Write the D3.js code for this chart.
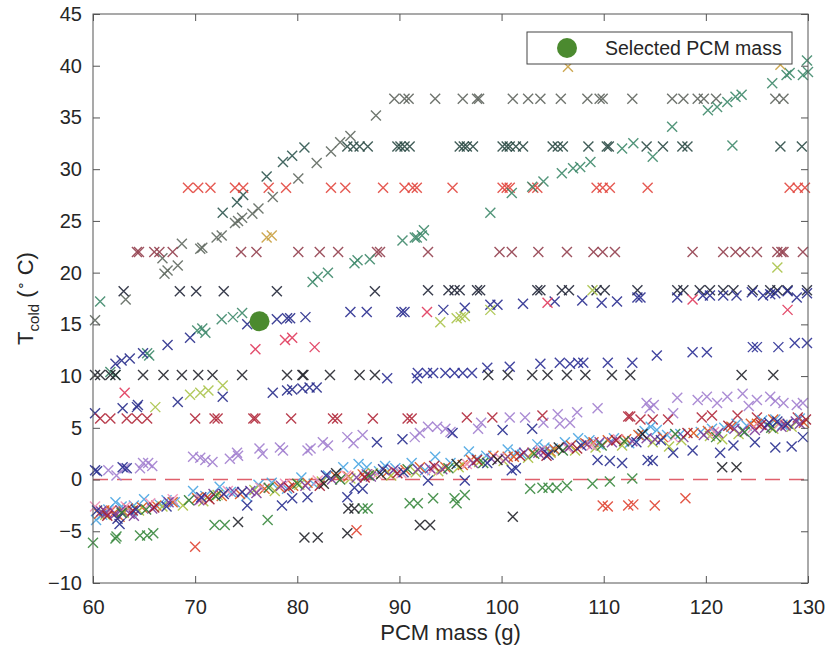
<!DOCTYPE html>
<html>
<head>
<meta charset="utf-8">
<script src="https://cdn.jsdelivr.net/npm/d3@7"></script>
<style>
  body { margin: 0; background: #fff; }
  svg text { font-family: "Liberation Sans", Arial, Helvetica, sans-serif; fill: #262626; }
</style>
</head>
<body>
<div id="chart"></div>
<script>
var w = 829;
var h = 656;
var margin = { left: 93, right: 21, top: 14, bottom: 73 };

var xTicks = [60, 70, 80, 90, 100, 110, 120, 130];
var yTicks = [-10, -5, 0, 5, 10, 15, 20, 25, 30, 35, 40, 45];
var selected = [[76.3, 15.3]];
var legendLabel = "Selected PCM mass";

// rows at constant temperature
var row368 = [[89.5,36.8],[90.5,36.8],[90.9,36.8],[93.5,36.8],[96.2,36.8],[97.6,36.8],[97.8,36.8],[101.1,36.8],[102.6,36.8],[103.8,36.8],[105.8,36.8],[108.4,36.8],[109.6,36.8],[109.9,36.8],[112.8,36.8],[116.7,36.8],[117.8,36.8],[119.2,36.8],[119.8,36.8],[121.0,36.8],[126.8,36.8],[127.6,36.8]];
var row322 = [[84.9,32.2],[85.5,32.2],[86.1,32.2],[86.9,32.2],[89.8,32.2],[90.1,32.2],[90.5,32.2],[91.0,32.2],[95.9,32.2],[96.3,32.2],[96.6,32.2],[97.2,32.2],[100.1,32.2],[100.5,32.2],[100.8,32.2],[101.4,32.2],[102.1,32.2],[105.0,32.2],[105.5,32.2],[106.0,32.2],[108.5,32.2],[110.3,32.2],[110.5,32.2],[114.2,32.2],[115.8,32.2],[117.7,32.2],[118.2,32.2],[127.3,32.2],[129.4,32.2]];
var row282 = [[69.3,28.2],[70.3,28.2],[71.5,28.2],[73.9,28.2],[74.7,28.2],[77.2,28.2],[78.9,28.2],[83.3,28.2],[84.7,28.2],[88.4,28.2],[90.5,28.2],[91.3,28.2],[91.7,28.2],[95.2,28.2],[100.1,28.2],[100.5,28.2],[100.8,28.2],[103.1,28.2],[103.5,28.2],[109.3,28.2],[109.9,28.2],[110.6,28.2],[114.3,28.2],[128.2,28.2],[129.0,28.2],[129.7,28.2]];
var row221 = [[64.3,22.0],[64.5,22.0],[66.0,22.0],[66.5,22.0],[67.8,22.0],[74.5,22.0],[76.0,22.0],[80.1,22.0],[82.2,22.0],[84.0,22.0],[87.8,22.0],[88.1,22.0],[92.8,22.0],[99.8,22.0],[101.0,22.0],[103.6,22.0],[106.4,22.0],[109.0,22.0],[109.9,22.0],[111.1,22.0],[118.7,22.0],[121.7,22.0],[122.9,22.0],[123.8,22.0],[125.0,22.0],[127.0,22.0],[127.4,22.0],[127.6,22.0],[129.5,22.0]];
var row183 = [[63.0,18.2],[68.5,18.2],[70.1,18.2],[72.8,18.2],[78.0,18.2],[87.6,18.2],[92.8,18.3],[94.8,18.3],[95.4,18.3],[95.9,18.3],[97.6,18.3],[97.9,18.3],[103.5,18.3],[103.8,18.3],[105.9,18.3],[106.6,18.3],[109.3,18.3],[110.1,18.3],[113.3,18.3],[117.2,18.3],[117.8,18.3],[119.4,18.3],[120.4,18.3],[121.7,18.3],[122.7,18.3],[124.6,18.3],[126.3,18.3],[127.0,18.3],[128.0,18.3],[129.9,18.3]];
var row101 = [[60.2,10.1],[60.7,10.1],[61.7,10.1],[62.2,10.1],[64.9,10.1],[66.9,10.1],[68.7,10.1],[70.3,10.1],[71.7,10.1],[74.6,10.1],[79.0,10.1],[80.5,10.1],[80.6,10.1],[83.2,10.1],[86.1,10.1],[87.6,10.1],[98.7,10.1],[100.6,10.1],[103.0,10.1],[104.5,10.1],[106.4,10.1],[108.2,10.1],[110.8,10.1],[112.6,10.1],[123.5,10.1],[126.6,10.1]];
var row59 = [[60.7,5.9],[61.7,5.9],[63.3,5.9],[64.3,5.9],[65.3,5.9],[70.0,5.9],[71.9,5.9],[72.2,5.9],[75.7,5.9],[75.9,5.9],[79.4,5.9],[83.5,5.9],[83.9,5.9],[87.4,5.9],[90.8,5.9],[91.2,5.9],[96.6,6.0],[99.1,6.0],[104.0,6.2],[112.4,6.1],[112.6,6.1],[113.6,5.8],[114.8,5.8],[116.3,5.8],[119.6,6.0],[120.6,6.2],[123.1,6.2],[125.0,6.0],[129.0,6.0]];

// rising branches
var grayDiag = [[60.2,15.4],[63.2,17.4],[66.8,21.4],[67.0,19.9],[67.3,20.2],[68.3,20.7],[68.7,22.8],[70.5,22.3],[70.7,22.4],[72.1,23.4],[72.6,23.6],[73.9,24.8],[74.2,25.0],[74.6,25.3],[75.6,25.7],[76.2,26.2],[77.6,27.3],[80.1,29.1],[81.9,30.6],[83.3,31.7],[84.2,32.6],[85.2,33.2],[87.7,35.2]];
var darkTealDiag = [[72.7,25.8],[74.1,26.8],[74.7,27.5],[77.0,29.3],[78.6,30.7],[79.5,31.3],[80.7,32.1]];
var tealDiag = [[60.7,17.2],[61.7,10.4],[62.2,10.1],[65.3,12.2],[65.5,12.0],[70.2,14.4],[70.7,14.6],[71.0,14.2],[72.6,15.5],[73.7,15.7],[74.6,16.1],[81.5,19.1],[82.0,19.6],[83.0,20.0],[85.6,20.9],[85.9,21.2],[87.1,21.3],[90.3,23.1],[91.5,23.4],[91.7,23.4],[92.2,23.6],[92.4,24.1],[98.9,25.8],[101.0,27.7],[103.0,28.3],[104.1,28.8],[105.9,29.6],[107.0,30.1],[107.7,30.2],[108.7,30.7],[111.8,32.0],[112.9,32.5],[114.8,31.2],[116.7,34.1],[120.2,35.7],[121.1,36.0],[122.1,36.5],[122.9,37.0],[123.5,37.2],[122.6,32.3],[126.5,38.3],[127.9,39.1],[128.2,39.3],[129.5,39.1],[130.0,39.4],[129.9,40.5]];
var navyDiag = [[60.2,6.4],[62.2,11.2],[62.8,11.5],[63.6,11.7],[64.9,12.2],[67.3,13.0],[69.5,13.7],[62.9,6.9],[64.3,7.0],[64.4,7.2],[68.3,7.5],[72.7,8.0],[77.6,8.4],[79.0,8.6],[79.5,8.7],[80.5,8.8],[81.2,8.9],[81.9,8.9],[75.1,15.0],[78.0,15.5],[79.0,15.6],[79.3,15.6],[80.8,15.7]];
var navyMid = [[85.2,16.2],[86.8,16.2],[90.2,16.2],[90.5,16.2],[94.3,16.4],[96.4,16.6],[98.9,16.9],[99.6,16.9],[102.1,17.0],[105.2,17.2],[107.9,17.3],[109.8,17.1],[111.3,17.2],[113.3,17.6],[113.6,17.6],[117.2,17.6],[119.7,17.8],[120.4,17.8],[121.7,17.8],[123.0,17.8],[124.5,18.1],[125.6,17.8],[126.3,17.9],[126.8,18.0],[128.0,18.2],[128.9,17.6],[129.9,18.0]];
var navyRow = [[88.8,9.8],[91.7,9.8],[91.8,10.3],[92.7,10.3],[93.3,10.3],[94.5,10.3],[95.4,10.3],[96.2,10.3],[97.1,10.3],[98.6,10.8],[100.8,10.9],[103.8,11.2],[105.7,11.3],[106.7,11.2],[107.5,11.3],[108.0,11.3],[110.4,11.3],[112.8,11.3],[115.2,12.0],[118.7,12.3],[120.1,12.3],[124.6,12.8],[125.0,12.8],[127.1,12.8],[128.7,13.2],[129.9,13.2]];

// scattered groups
var pinkRed = [[63.1,8.4],[75.9,12.6],[78.8,13.5],[79.5,13.7],[81.7,12.8],[92.7,16.2],[104.5,17.1],[118.7,17.4],[128.0,16.4]];
var olive = [[66.1,7.0],[69.5,8.2],[70.5,8.4],[71.3,8.6],[72.7,9.1],[94.0,15.2],[95.6,15.6],[96.0,15.7],[96.4,15.8],[98.9,16.4],[108.9,18.3],[127.0,20.5]];
var ochre = [[77.0,23.4],[77.5,23.6],[106.5,39.9],[127.3,40.1]];
var greenLow = [[60.0,-6.1],[62.2,-5.7],[62.3,-5.5],[64.6,-5.4],[65.3,-5.4],[65.9,-5.2],[71.9,-4.4],[72.9,-4.4],[77.1,-3.9],[86.4,-2.8],[86.9,-2.8],[91.0,-2.3],[91.8,-2.3],[93.3,-1.8],[95.4,-1.8],[95.6,-2.3],[96.4,-1.5],[102.8,-0.9],[104.0,-0.8],[104.6,-0.8],[105.4,-0.8],[106.4,-0.6],[108.9,-0.4],[110.6,-0.2],[112.8,0.1]];
var darkLow = [[74.2,-4.1],[80.7,-5.6],[82.0,-5.6],[84.9,-5.2],[85.0,-2.8],[85.6,-2.8],[92.0,-4.4],[93.0,-4.4],[101.1,-3.6],[121.6,1.2],[123.0,1.2]];
var redLow = [[70.0,-6.5],[85.8,-4.9],[109.9,-2.5],[110.4,-2.6],[112.4,-2.5],[112.9,-2.4],[115.0,-2.5],[118.0,-1.8]];
var lavender = [[61.5,0.9],[62.3,0.4],[63.1,1.1],[64.6,1.1],[64.9,1.6],[65.4,1.6],[65.8,1.3],[69.8,2.2],[70.5,2.1],[71.0,1.9],[71.7,1.7],[73.4,2.0],[74.2,2.3],[74.1,2.6],[76.3,3.0],[76.6,2.5],[78.3,3.1],[78.6,2.8],[81.0,2.8],[81.3,3.0],[82.5,3.6],[83.0,3.3],[84.9,4.1],[85.5,3.5],[86.4,4.3],[91.5,4.1],[92.0,4.5],[92.8,5.1],[93.7,5.1],[94.5,4.9],[95.0,4.6],[97.7,4.9],[98.0,5.5],[100.8,6.0],[102.3,6.0],[104.1,5.5],[105.5,6.3],[105.7,5.4],[106.7,5.5],[107.4,6.5],[109.4,6.9],[114.2,7.4],[114.5,6.9],[114.9,7.2],[116.8,6.4],[117.2,7.9],[119.2,7.7],[120.1,8.0],[121.1,7.4],[122.1,8.0],[123.6,8.3],[124.2,7.1],[125.0,7.7],[126.3,8.0],[126.8,7.6],[127.6,7.4],[128.9,7.2],[129.5,7.4]];

// the dense band around 0 degC
var bandBlue = [[60.3,-3.9],[60.9,-3.4],[61.5,-2.9],[62.2,-2.2],[62.8,-2.6],[63.8,-3.1],[64.0,-2.5],[65.0,-1.9],[66.5,-2.4],[67.2,-2.0],[68.0,-2.2],[69.8,-1.1],[71.0,-1.6],[72.4,-0.7],[73.5,-1.2],[75.0,-1.6],[76.2,-0.5],[77.5,-0.3],[79.0,-0.9],[80.4,0.2],[81.6,-0.4],[83.0,0.4],[84.5,1.2],[86.0,1.5],[86.8,1.2],[88.0,0.8],[88.6,1.3],[89.6,1.1],[91.2,1.6],[92.5,0.9],[93.5,2.2],[95.0,1.6],[96.8,2.7],[97.6,2.0],[98.5,2.3],[100.6,2.9],[101.4,2.6],[102.0,2.4],[103.5,3.4],[104.2,3.1],[105.0,3.0],[106.2,3.6],[107.5,4.0],[108.6,3.8],[109.5,3.4],[111.0,4.0],[112.5,3.5],[113.6,4.2],[114.0,4.7],[114.6,5.1],[115.2,4.8],[116.2,4.3],[117.5,4.4],[119.5,4.6],[120.6,4.9],[121.8,5.0],[123.0,5.4],[124.0,5.2],[125.5,5.7],[126.8,5.8],[127.5,5.3],[129.2,5.9]];
var bandOrange = [[60.6,-3.3],[61.1,-3.0],[61.8,-3.0],[62.0,-3.3],[62.6,-3.6],[63.0,-3.1],[63.4,-2.8],[64.8,-2.7],[66.2,-2.5],[67.8,-2.2],[70.2,-1.8],[71.2,-1.7],[72.6,-1.6],[74.4,-1.4],[76.8,-0.9],[78.2,-0.7],[79.6,-0.6],[81.0,-0.3],[83.8,0.3],[85.0,0.3],[86.4,0.5],[88.8,0.7],[90.6,0.9],[92.0,1.2],[94.5,1.2],[96.2,1.4],[97.0,1.9],[99.2,2.3],[100.6,2.2],[101.2,2.2],[103.0,2.6],[104.8,2.7],[105.2,2.9],[106.8,3.3],[108.2,3.5],[109.0,3.6],[110.4,3.8],[112.2,3.9],[113.4,4.3],[115.8,4.1],[118.8,4.5],[120.2,4.7],[122.5,5.1],[124.4,5.4],[125.0,5.4],[126.6,5.8],[127.8,5.3],[129.6,5.5]];
var bandYellow = [[61.2,-3.4],[63.0,-3.2],[64.5,-3.0],[66.8,-2.6],[68.8,-2.5],[70.8,-2.1],[72.2,-1.5],[75.8,-1.0],[77.8,-1.1],[80.2,-0.5],[82.4,-0.2],[85.2,0.1],[87.4,0.6],[89.2,0.4],[91.6,0.7],[93.8,0.8],[95.8,1.2],[97.8,1.7],[100.2,1.8],[102.6,2.1],[104.8,2.6],[107.2,2.8],[109.2,3.1],[111.8,3.3],[114.8,3.6],[116.4,3.2],[117.6,3.8],[120.4,4.2],[121.6,3.9],[123.2,4.4],[126.6,4.9],[128.4,5.1]];
var bandPink = [[60.2,-2.6],[61.6,-3.1],[63.2,-2.6],[65.6,-2.3],[67.8,-1.9],[70.6,-1.9],[73.2,-1.1],[76.4,-0.8],[78.8,-0.4],[82.0,-0.1],[84.8,0.4],[87.8,0.5],[90.2,0.6],[93.2,0.9],[96.6,1.5],[99.8,2.1],[103.8,2.8],[106.4,3.1],[108.8,3.3],[111.4,3.9],[116.8,4.1],[120.8,4.6],[124.6,5.0],[127.2,5.4]];
var bandPurple = [[60.8,-3.1],[61.3,-3.2],[62.2,-3.3],[62.7,-3.0],[63.6,-3.3],[64.0,-3.5],[65.8,-2.8],[67.4,-2.2],[70.4,-2.0],[71.8,-1.4],[73.8,-1.2],[75.4,-1.1],[76.0,-1.3],[78.4,-0.6],[80.8,-0.6],[83.4,0.0],[85.8,0.2],[86.8,0.5],[87.2,0.3],[89.4,0.9],[91.8,1.0],[93.0,1.1],[94.2,1.0],[97.2,1.6],[99.0,2.0],[100.4,2.0],[102.2,2.6],[103.6,2.6],[104.2,2.7],[106.6,3.1],[108.4,3.4],[109.6,3.6],[110.8,3.6],[112.8,3.7],[114.2,4.0],[115.0,3.9],[117.8,4.1],[119.8,4.3],[121.2,4.5],[122.8,4.9],[123.6,4.7],[124.8,4.8],[125.8,5.0],[126.0,5.3],[127.4,5.1],[127.8,5.2],[128.8,5.6],[129.2,5.4]];
var bandNavy = [[60.2,0.9],[60.4,0.8],[62.9,1.2],[63.3,1.1],[87.8,3.6],[90.3,3.9],[95.2,4.5],[100.1,4.8],[103.0,4.9],[60.4,-3.0],[62.4,-3.8],[62.6,-4.3],[64.2,-2.9],[67.2,-2.6],[70.6,-1.7],[72.8,-1.4],[74.6,-1.2],[75.1,-2.5],[78.5,-2.5],[79.5,-1.8],[81.0,-1.7],[82.8,0.4],[84.9,-1.7],[85.6,-0.8],[86.4,-0.9],[88.4,1.0],[90.4,0.7],[92.8,-0.1],[96.4,-0.1],[98.6,1.6],[101.0,0.9],[101.4,1.1],[104.6,2.4],[107.8,3.3],[109.4,1.9],[110.6,1.8],[111.8,1.6],[113.2,3.6],[114.3,1.9],[114.8,1.8],[115.6,3.8],[116.8,2.6],[118.7,2.8],[121.4,2.6],[122.7,3.3],[124.8,3.6],[126.2,5.5],[126.8,3.1],[127.0,5.6],[128.0,5.4],[128.4,3.2],[129.5,4.1]];
var bandGreen = [[62.8,-3.2],[65.2,-2.9],[69.4,-2.0],[72.0,-1.6],[77.2,-0.8],[80.0,-0.4],[84.2,0.0],[87.0,0.4],[90.8,1.0],[94.8,1.1],[98.2,1.6],[103.2,2.5],[106.0,2.8],[109.8,3.3],[112.0,3.7],[117.0,4.4],[121.0,4.1],[123.8,4.6],[126.4,5.0]];
var bandRed = [[61.4,-3.5],[63.9,-3.0],[66.0,-2.7],[71.4,-1.9],[79.2,-0.8],[82.2,-0.6],[86.6,0.2],[89.8,0.6],[93.4,1.3],[97.6,1.9],[101.8,2.3],[104.4,2.3],[107.4,3.0],[111.2,3.8],[118.2,4.5],[122.2,5.2],[125.4,5.3],[129.8,5.8]];
var bandBlack = [[82.6,-0.4],[83.8,0.6],[88.2,0.5],[95.6,1.5],[99.6,1.9],[105.6,3.1],[113.8,4.4]];

// draw order and colours for each group
var groups = [
  { pts: lavender, color: "#a27fcf" },
  { pts: row368, color: "#5f655e" },
  { pts: grayDiag, color: "#626a62" },
  { pts: darkTealDiag, color: "#2f5750" },
  { pts: row322, color: "#2e4d47" },
  { pts: row282, color: "#e2473f" },
  { pts: row221, color: "#94404f" },
  { pts: row183, color: "#23283a" },
  { pts: tealDiag, color: "#3f8a6c" },
  { pts: navyDiag, color: "#2a2f8c" },
  { pts: navyMid, color: "#2b2f90" },
  { pts: navyRow, color: "#2d3196" },
  { pts: row101, color: "#26272f" },
  { pts: row59, color: "#b12a3c" },
  { pts: pinkRed, color: "#e03a5c" },
  { pts: olive, color: "#aac34a" },
  { pts: ochre, color: "#c9a040" },
  { pts: greenLow, color: "#3b8a40" },
  { pts: darkLow, color: "#23252b" },
  { pts: redLow, color: "#e04432" },
  { pts: bandBlue, color: "#4ba6e2" },
  { pts: bandOrange, color: "#d9541c" },
  { pts: bandYellow, color: "#a8c040" },
  { pts: bandPink, color: "#f08fb6" },
  { pts: bandPurple, color: "#7b3d9a" },
  { pts: bandGreen, color: "#2f7c33" },
  { pts: bandRed, color: "#a3192d" },
  { pts: bandNavy, color: "#2a3090" },
  { pts: bandBlack, color: "#222" }
];

var iw = w - margin.left - margin.right;
var ih = h - margin.top - margin.bottom;

var svg = d3.select("#chart")
            .append("svg")
            .attr("width", w)
            .attr("height", h);

var g = svg.append("g")
           .attr("transform", "translate(" + margin.left + "," + margin.top + ")");

var x = d3.scaleLinear().domain([60, 130]).range([0, iw]);
var y = d3.scaleLinear().domain([-10, 45]).range([ih, 0]);

// zero line
g.append("line")
  .attr("x1", x(60)).attr("x2", x(130))
  .attr("y1", y(0)).attr("y2", y(0))
  .style("stroke", "#e0606c")
  .style("stroke-width", 1.4)
  .style("stroke-dasharray", "15,9");

// x markers
var s = 5;
groups.forEach(function(grp) {
  g.append("g").selectAll("path")
    .data(grp.pts)
    .enter()
    .append("path")
    .attr("d", function(d) {
      var cx = x(d[0]), cy = y(d[1]);
      return "M" + (cx - s) + "," + (cy - s) + "L" + (cx + s) + "," + (cy + s) +
             "M" + (cx - s) + "," + (cy + s) + "L" + (cx + s) + "," + (cy - s);
    })
    .style("fill", "none")
    .style("stroke", grp.color)
    .style("stroke-width", 1.4)
    .style("stroke-opacity", 0.9);
});

// selected point
g.selectAll("circle.sel")
  .data(selected)
  .enter()
  .append("circle")
  .attr("class", "sel")
  .attr("cx", function(d) { return x(d[0]); })
  .attr("cy", function(d) { return y(d[1]); })
  .attr("r", 10)
  .style("fill", "#4b8a2f");

// axes (matlab style box with inward ticks)
var ax = g.append("g")
  .attr("transform", "translate(0," + ih + ")")
  .call(d3.axisBottom(x).tickValues(xTicks).tickSize(-7).tickPadding(17));
var ay = g.append("g")
  .call(d3.axisLeft(y).tickValues(yTicks).tickSize(-7).tickPadding(11));
var at = g.append("g")
  .call(d3.axisTop(x).tickValues(xTicks).tickSize(-7).tickFormat(""));
var ar = g.append("g")
  .attr("transform", "translate(" + iw + ",0)")
  .call(d3.axisRight(y).tickValues(yTicks).tickSize(-7).tickFormat(""));

[ax, ay, at, ar].forEach(function(a) {
  a.select(".domain").remove();
  a.selectAll("line").style("stroke", "#555").style("stroke-width", 1);
  a.selectAll("text").style("font-size", "20px").style("fill", "#262626");
});

g.append("rect")
  .attr("width", iw).attr("height", ih)
  .style("fill", "none")
  .style("stroke", "#555")
  .style("stroke-width", 1);

// labels
svg.append("text")
  .attr("x", margin.left + iw / 2)
  .attr("y", 640)
  .attr("text-anchor", "middle")
  .style("font-size", "22px")
  .text("PCM mass (g)");

var yl = svg.append("text")
  .attr("transform", "translate(33," + (margin.top + ih / 2) + ") rotate(-90)")
  .attr("text-anchor", "middle")
  .style("font-size", "22px");
yl.append("tspan").text("T");
yl.append("tspan").attr("dy", 6).style("font-size", "15px").text("cold");
yl.append("tspan").attr("dy", -6).text(" (");
yl.append("tspan").attr("dy", -8).style("font-size", "14px").text("\u2218");
yl.append("tspan").attr("dy", 8).text(" C)");

// legend
var lg = svg.append("g");
lg.append("rect")
  .attr("x", 527).attr("y", 32)
  .attr("width", 265).attr("height", 32)
  .style("fill", "#fff")
  .style("stroke", "#444")
  .style("stroke-width", 1);
lg.append("circle")
  .attr("cx", 567).attr("cy", 48).attr("r", 10)
  .style("fill", "#4b8a2f");
lg.append("text")
  .attr("x", 605).attr("y", 55)
  .style("font-size", "19.5px")
  .text(legendLabel);
</script>
</body>
</html>
